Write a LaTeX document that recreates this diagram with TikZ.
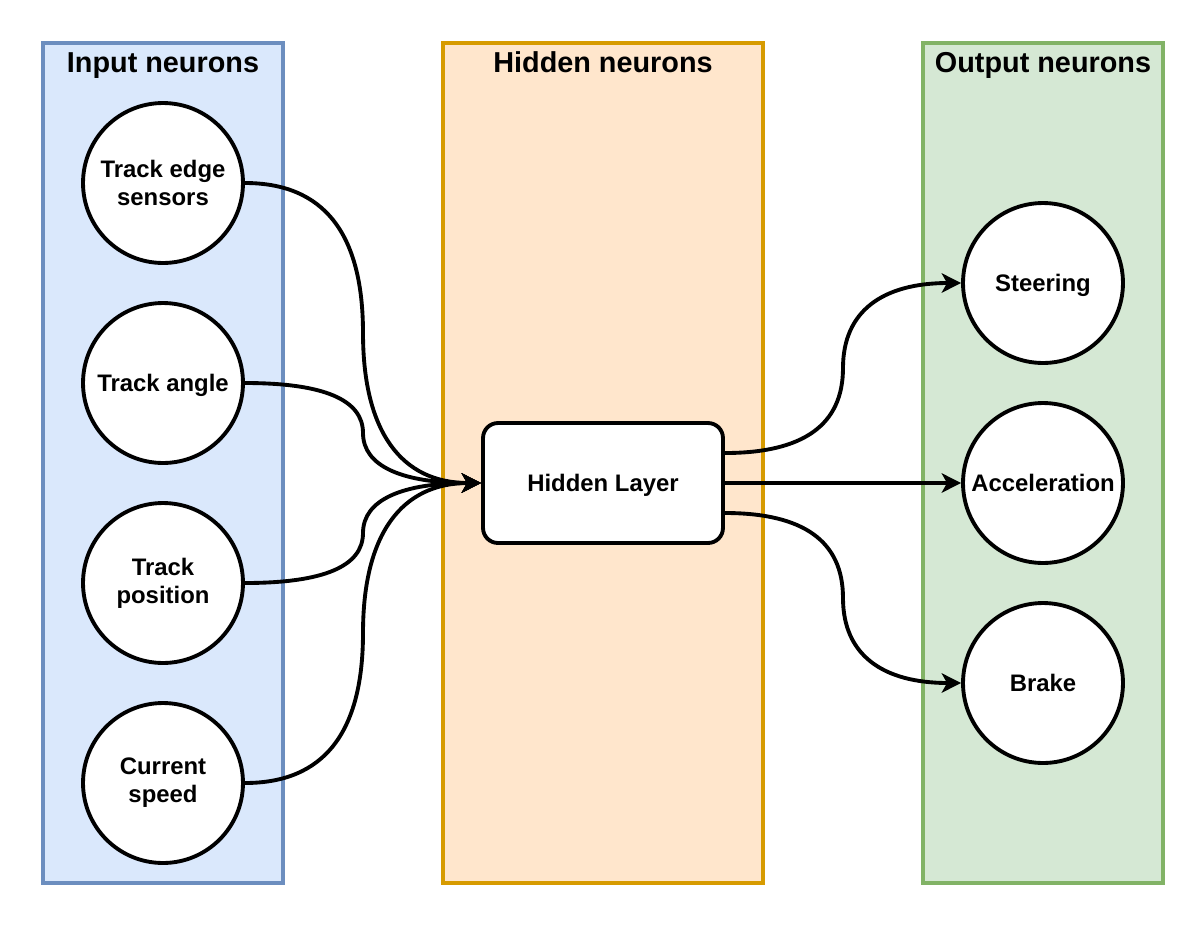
\documentclass[tikz,border=0pt]{standalone}
\usepackage{fontspec}
\setmainfont{Liberation Sans}
\usetikzlibrary{calc,arrows.meta,positioning}

\definecolor{inFill}{HTML}{DAE8FC}
\definecolor{inLine}{HTML}{6C8EBF}
\definecolor{hidFill}{HTML}{FFE6CC}
\definecolor{hidLine}{HTML}{D79B00}
\definecolor{outFill}{HTML}{D5E8D4}
\definecolor{outLine}{HTML}{82B366}

\newcommand{\neuronfont}{\bfseries\fontsize{13.6pt}{15.9pt}\selectfont}
\newcommand{\titlefont}{\bfseries\fontsize{16.4pt}{19pt}\selectfont}

\tikzset{
  panel/.style={draw, line width=2pt, minimum width=4.8cm, minimum height=16.8cm, inner sep=0pt},
  paneltitle/.style={font=\titlefont, inner sep=0pt, anchor=base},
  neuron/.style={circle, draw, fill=white, line width=2.2pt, minimum size=3.2cm, inner sep=0pt, align=center, font=\neuronfont},
  nodepth/.style={text depth=0pt},
  layerbox/.style={draw, fill=white, rounded corners=0.3cm, line width=2.2pt, minimum width=4.8cm, minimum height=2.4cm, font=\neuronfont},
  % two quadratic pieces through the middle of the gap
  link/.style={line width=2.2pt, -{Stealth[length=11pt, width=11pt, inset=3pt]},
    to path={let \p1=(\tikztostart), \p2=(\tikztotarget),
      \n1={0.5*\x1+0.5*\x2}, \n2={0.5*\y1+0.5*\y2},
      \n3={(\x1+2*\n1)/3}, \n4={(\n2+2*\y1)/3},
      \n5={(\n2+2*\y2)/3}, \n6={(\x2+2*\n1)/3} in
      .. controls (\n3,\y1) and (\n1,\n4) .. (\n1,\n2)
      .. controls (\n1,\n5) and (\n6,\y2) .. (\p2) \tikztonodes}}
}

\begin{document}
\begin{tikzpicture}[x=0.02cm, y=-0.02cm]
\useasboundingbox (0,0) rectangle (1204,924);

% panels
\node[panel, fill=inFill, draw=inLine] (pin) at (163,463) {};
\node[panel, fill=hidFill, draw=hidLine, minimum width=6.4cm] (phid) at (603,463) {};
\node[panel, fill=outFill, draw=outLine] (pout) at (1043,463) {};
\node[paneltitle] (tin) at ($(pin.north)+(0,31)$) {Input neurons};
\node[paneltitle] (thid) at ($(phid.north)+(0,31)$) {Hidden neurons};
\node[paneltitle] (tout) at ($(pout.north)+(0,31)$) {Output neurons};

% neurons
\foreach \k/\y/\opt/\txt in {1/183//{Track edge\\sensors}, 2/383/nodepth/{Track angle}, 3/583//{Track\\position}, 4/783//{Current\\speed}}{
  \node[neuron, \opt] (i\k) at (163,\y) {\txt};
}
\node[layerbox, nodepth] (hl) at (603,483) {Hidden Layer};
\node[neuron, nodepth] (o1) at (1043,283) {Steering};
\node[neuron] (o2) at (1043,483) {Acceleration};
\node[neuron] (o3) at (1043,683) {Brake};

% connections
\foreach \k in {1,...,4}{
  \draw[link] (i\k.east) to (hl.west);
}
\draw[link] ([yshift=0.6cm]hl.east) to (o1.west);
\draw[link] (hl.east) to (o2.west);
\draw[link] ([yshift=-0.6cm]hl.east) to (o3.west);
\end{tikzpicture}
\end{document}
